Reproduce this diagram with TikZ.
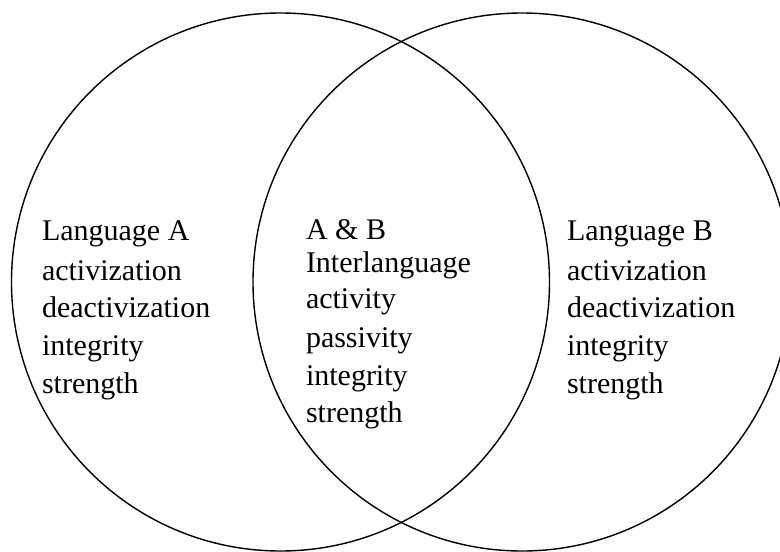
\documentclass[tikz,border=0pt]{standalone}
\usepackage{fontspec}
\setmainfont{Liberation Serif}
\begin{document}
\begin{tikzpicture}[x=1pt,y=-1pt,
  ring/.style={draw=black,line width=1.4pt},
  lbl/.style={anchor=base west,inner sep=0pt,outer sep=0pt,font=\fontsize{30}{34}\selectfont}]
\useasboundingbox (0,0) rectangle (780,552);
\clip (0,0) rectangle (780,552);
\fill[white] (0,0) rectangle (780,552);
\node[ring,circle,minimum size=538pt,inner sep=0pt] (A) at (280.5,282) {};
\node[ring,circle,minimum size=538pt,inner sep=0pt] (B) at (522,282) {};
% Language A
\node[lbl] (a1) at (42,240) {Language A};
\node[lbl] (a2) at (42,280) {activization};
\node[lbl] (a3) at (42,317) {deactivization};
\node[lbl] (a4) at (42,355) {integrity};
\node[lbl] (a5) at (42,393) {strength};
% A & B
\node[lbl] (m1) at (306,239) {A \& B};
\node[lbl] (m2) at (306,272) {Interlanguage};
\node[lbl] (m3) at (306,308) {activity};
\node[lbl] (m4) at (306,347) {passivity};
\node[lbl] (m5) at (306,385) {integrity};
\node[lbl] (m6) at (306,422) {strength};
% Language B
\node[lbl] (b1) at (567,240) {Language B};
\node[lbl] (b2) at (567,280) {activization};
\node[lbl] (b3) at (567,317) {deactivization};
\node[lbl] (b4) at (567,355) {integrity};
\node[lbl] (b5) at (567,393) {strength};
\end{tikzpicture}
\end{document}
